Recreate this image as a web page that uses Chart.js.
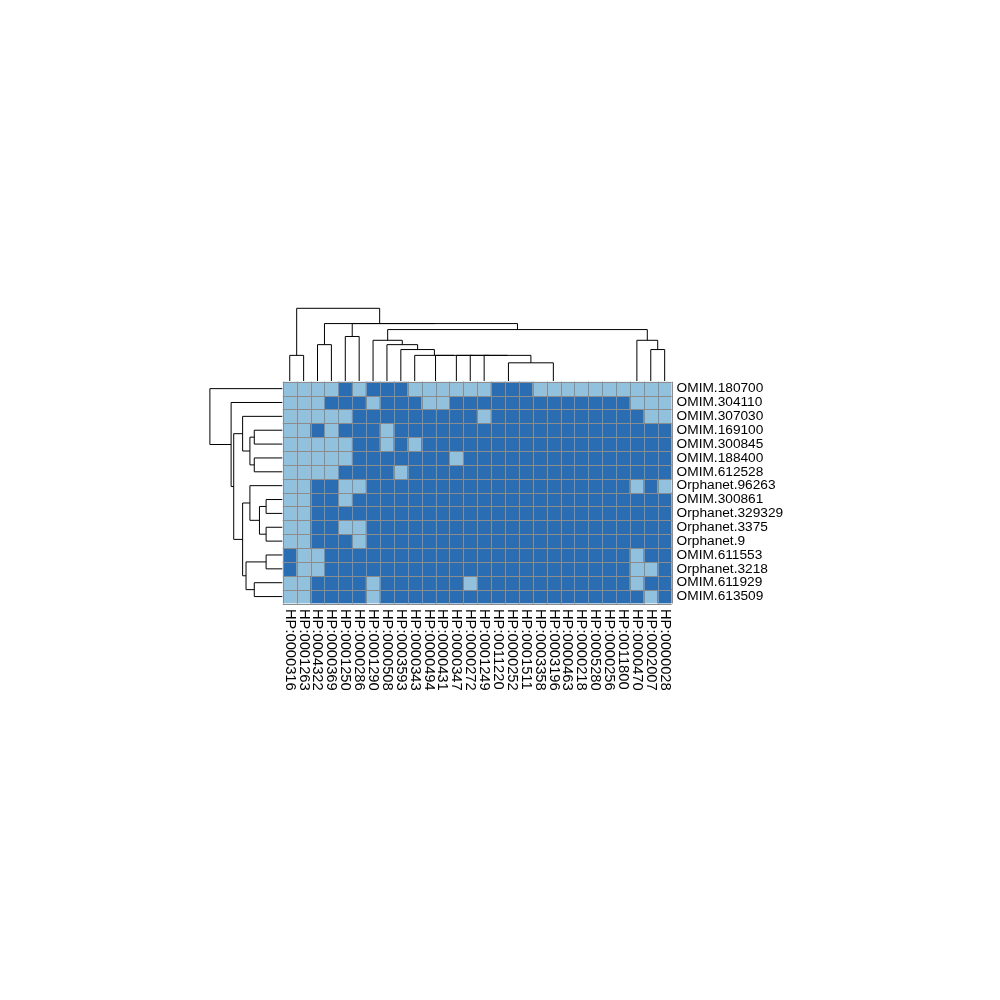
<!DOCTYPE html>
<html><head><meta charset="utf-8">
<script src="https://cdn.jsdelivr.net/npm/chart.js@4.4.1/dist/chart.umd.min.js"></script>
<style>html,body{margin:0;padding:0;background:#fff}#wrap{width:1000px;height:1000px}</style>
</head><body><div id="wrap"><canvas id="c" width="1000" height="1000"></canvas></div>
<script>
// ---- DATA ----
const columnLabels = ["HP:0000316","HP:0001263","HP:0004322","HP:0000369","HP:0001250","HP:0000286","HP:0001290","HP:0000508","HP:0003593","HP:0000343","HP:0000494","HP:0000431","HP:0000347","HP:0000272","HP:0001249","HP:0011220","HP:0000252","HP:0001511","HP:0003358","HP:0003196","HP:0000463","HP:0000218","HP:0005280","HP:0000256","HP:0011800","HP:0000470","HP:0002007","HP:0000028"];
const rowLabels = ["OMIM.180700","OMIM.304110","OMIM.307030","OMIM.169100","OMIM.300845","OMIM.188400","OMIM.612528","Orphanet.96263","OMIM.300861","Orphanet.329329","Orphanet.3375","Orphanet.9","OMIM.611553","Orphanet.3218","OMIM.611929","OMIM.613509"];
// 1 = light cell, 0 = dark cell
const row00 = [1,1,1,1,0,1,0,0,0,1,1,1,1,1,1,0,0,0,1,1,1,1,1,1,1,1,1,1];
const row01 = [1,1,1,0,0,0,1,0,0,0,1,1,0,0,0,0,0,0,0,0,0,0,0,0,0,1,1,1];
const row02 = [1,1,1,1,1,0,0,0,0,0,0,0,0,0,1,0,0,0,0,0,0,0,0,0,0,0,1,1];
const row03 = [1,1,0,1,0,0,0,1,0,0,0,0,0,0,0,0,0,0,0,0,0,0,0,0,0,0,0,0];
const row04 = [1,1,1,1,1,0,0,1,0,1,0,0,0,0,0,0,0,0,0,0,0,0,0,0,0,0,0,0];
const row05 = [1,1,1,1,1,0,0,0,0,0,0,0,1,0,0,0,0,0,0,0,0,0,0,0,0,0,0,0];
const row06 = [1,1,1,1,0,0,0,0,1,0,0,0,0,0,0,0,0,0,0,0,0,0,0,0,0,0,0,0];
const row07 = [1,1,0,0,1,1,0,0,0,0,0,0,0,0,0,0,0,0,0,0,0,0,0,0,0,1,0,1];
const row08 = [1,1,0,0,1,0,0,0,0,0,0,0,0,0,0,0,0,0,0,0,0,0,0,0,0,0,0,0];
const row09 = [1,1,0,0,0,0,0,0,0,0,0,0,0,0,0,0,0,0,0,0,0,0,0,0,0,0,0,0];
const row10 = [1,1,0,0,1,1,0,0,0,0,0,0,0,0,0,0,0,0,0,0,0,0,0,0,0,0,0,0];
const row11 = [1,1,0,0,0,1,0,0,0,0,0,0,0,0,0,0,0,0,0,0,0,0,0,0,0,0,0,0];
const row12 = [0,1,1,0,0,0,0,0,0,0,0,0,0,0,0,0,0,0,0,0,0,0,0,0,0,1,0,0];
const row13 = [0,1,1,0,0,0,0,0,0,0,0,0,0,0,0,0,0,0,0,0,0,0,0,0,0,1,1,0];
const row14 = [1,1,0,0,0,0,1,0,0,0,0,0,0,1,0,0,0,0,0,0,0,0,0,0,0,1,0,0];
const row15 = [1,1,0,0,0,0,1,0,0,0,0,0,0,0,0,0,0,0,0,0,0,0,0,0,0,0,1,0];
const cellValues = [row00,row01,row02,row03,row04,row05,row06,row07,row08,row09,row10,row11,row12,row13,row14,row15];

// dendrograms, hclust style: negative = leaf (1-based display position), positive = earlier merge (1-based)
const colMerge = [[-17,-18],[-16,1],[-24,-25],[-23,3],[-22,4],[-21,5],[-20,6],[-19,7],[-11,-12],
  [2,8],[-15,10],[-14,11],[-13,12],[9,13],[-10,14],[-1,-2],[-9,15],[-27,-28],[-8,17],[-3,-4],
  [-7,19],[-26,18],[-5,-6],[21,22],[23,24],[20,25],[16,26]];
const colHeight = [0,0,0,0,0,0,0,0,0,1.0,1.41,1.41,1.41,1.41,1.41,1.41,1.73,1.73,2.0,2.0,2.24,2.24,2.45,2.83,3.16,3.16,4.0];
const rowMerge = [[-4,-5],[-6,-7],[1,2],[-3,3],[-9,-10],[-11,-12],[5,6],[-8,7],[-13,-14],[-15,-16],[9,10],[8,11],[4,12],[-2,13],[-1,14]];
const rowHeight = [1.73,1.73,2.0,2.45,1.0,1.0,1.41,2.0,1.0,1.73,2.24,2.45,3.0,3.16,4.47];

// ---- STYLE ----
const LIGHT = '#92c1de', DARK = '#2a6db2', GRID = '#8c8c8c';
const COL_TREE_PX = 72.7, ROW_TREE_PX = 72.4;

function treeSegments(merge, heights, leafPos) {
  const centers = [];
  const out = [];
  const node = ref => ref < 0 ? { c: leafPos(-ref - 1), h: 0 } : { c: centers[ref - 1], h: heights[ref - 1] };
  merge.forEach(([a, b], k) => {
    const A = node(a), B = node(b);
    centers[k] = (A.c + B.c) / 2;
    out.push({ A, B, h: heights[k] });
  });
  return out;
}

const decor = {
  id: 'decor',
  afterDatasetsDraw(chart) {
    const { ctx, chartArea: a, scales: { x, y } } = chart;
    ctx.save();
    ctx.strokeStyle = GRID; ctx.lineWidth = 1;
    ctx.beginPath();
    for (let k = 0; k <= columnLabels.length; k++) {
      const px = Math.round(x.getPixelForValue(k - 0.5)) + 0.5;
      ctx.moveTo(px, a.top); ctx.lineTo(px, a.bottom);
    }
    for (let k = 0; k <= rowLabels.length; k++) {
      const py = Math.round(y.getPixelForValue(k)) + 0.5;
      ctx.moveTo(a.left, py); ctx.lineTo(a.right, py);
    }
    ctx.stroke();
    ctx.restore();
  },
  afterDraw(chart) {
    const { ctx, chartArea: a, scales: { x, y } } = chart;
    ctx.save();
    ctx.fillStyle = '#000';
    // row labels
    ctx.font = '13.7px "Liberation Sans", Arial, sans-serif';
    ctx.textAlign = 'left'; ctx.textBaseline = 'middle';
    rowLabels.forEach((t, i) => ctx.fillText(t, a.right + 5, y.getPixelForValue(i + 0.5)));
    // column labels (rotated)
    ctx.font = '14.7px "Liberation Sans", Arial, sans-serif';
    columnLabels.forEach((t, i) => {
      ctx.save();
      ctx.translate(x.getPixelForValue(i), a.bottom + 5.5);
      ctx.rotate(Math.PI / 2);
      ctx.fillText(t, 0, 0);
      ctx.restore();
    });
    // dendrograms
    ctx.strokeStyle = '#000'; ctx.lineWidth = 1;
    const cMax = Math.max(...colHeight), rMax = Math.max(...rowHeight);
    const cBase = a.top - 0.7, rBase = a.left - 0.5;
    const cy = h => cBase - h / cMax * COL_TREE_PX;
    treeSegments(colMerge, colHeight, i => x.getPixelForValue(i)).forEach(s => {
      if (s.h === 0) return;
      ctx.beginPath();
      ctx.moveTo(s.A.c, cy(s.A.h)); ctx.lineTo(s.A.c, cy(s.h));
      ctx.lineTo(s.B.c, cy(s.h)); ctx.lineTo(s.B.c, cy(s.B.h));
      ctx.stroke();
    });
    const rx = h => rBase - h / rMax * ROW_TREE_PX;
    treeSegments(rowMerge, rowHeight, i => y.getPixelForValue(i + 0.5)).forEach(s => {
      if (s.h === 0) return;
      ctx.beginPath();
      ctx.moveTo(rx(s.A.h), s.A.c); ctx.lineTo(rx(s.h), s.A.c);
      ctx.lineTo(rx(s.h), s.B.c); ctx.lineTo(rx(s.B.h), s.B.c);
      ctx.stroke();
    });
    ctx.restore();
  }
};

new Chart(document.getElementById('c'), {
  type: 'bar',
  data: {
    labels: columnLabels,
    datasets: rowLabels.map((name, r) => ({
      label: name,
      data: cellValues[r].map(() => [r, r + 1]),
      backgroundColor: cellValues[r].map(v => v ? LIGHT : DARK),
      borderWidth: 0,
      barPercentage: 1,
      categoryPercentage: 1,
      grouped: false
    }))
  },
  options: {
    responsive: false,
    animation: false,
    layout: { padding: { left: 282.8, right: 328.4, top: 381.7, bottom: 396.5 } },
    plugins: { legend: { display: false }, tooltip: { enabled: false } },
    scales: {
      x: { type: 'category', offset: true, display: false },
      y: { type: 'linear', min: 0, max: 16, reverse: true, display: false }
    }
  },
  plugins: [decor]
});
</script>
</body></html>
